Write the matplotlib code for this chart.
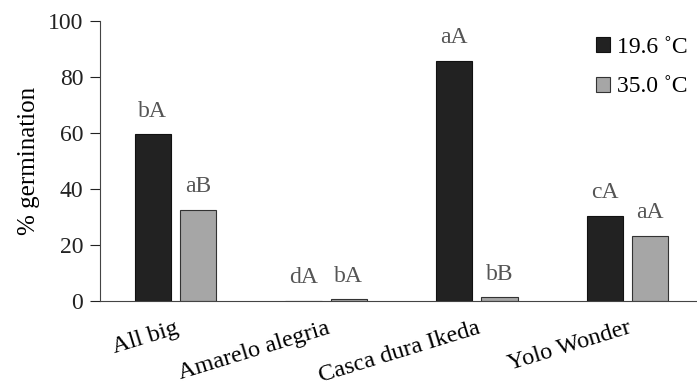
import matplotlib.pyplot as plt
import numpy as np

# ─── Données ────────────────────────────────────────────────────────────────
cultivars = ["All big", "Amarelo alegria", "Casca dura Ikeda", "Yolo Wonder"]
germ_196 = [59.6, 0.0, 85.7, 30.4]
germ_350 = [32.5, 0.6, 1.3, 23.2]
lettres_196 = ["bA", "dA", "aA", "cA"]
lettres_350 = ["aB", "bA", "bB", "aA"]
series = ["19.6 ˚C", "35.0 ˚C"]

plt.rcParams["font.family"] = ["Liberation Serif", "DejaVu Serif"]

fig = plt.figure(figsize=(6.97, 3.88), dpi=100)
ax = fig.add_axes([0.1435, 0.224, 0.8565, 0.722])

x = np.arange(len(cultivars))
w = 0.24
off = 0.15
b1 = ax.bar(x - off, germ_196, w, color="#222222", edgecolor="#111111", linewidth=0.8, label=series[0])
b2 = ax.bar(x + off, germ_350, w, color="#a6a6a6", edgecolor="#333333", linewidth=0.8, label=series[1])

for barres, lettres in [(b1, lettres_196), (b2, lettres_350)]:
    for barre, txt in zip(barres, lettres):
        ax.text(barre.get_x() + barre.get_width() / 2, barre.get_height() + 4.5, txt,
                ha="center", va="bottom", fontsize=17, color="#555555")

ax.set_xlim(-0.5, 3.46)
ax.set_ylim(0, 100)
ax.set_yticks([0, 20, 40, 60, 80, 100])
ax.set_xticks(x)
ax.set_xticklabels(cultivars, rotation=17, ha="right", rotation_mode="anchor", fontsize=17.5)
ax.tick_params(axis="x", length=0, pad=12)
ax.tick_params(axis="y", labelsize=17, direction="out", length=7, pad=5, colors="#222222")
ax.set_ylabel("% germination", fontsize=18, labelpad=6)
ax.spines[["top", "right"]].set_visible(False)
ax.spines[["left", "bottom"]].set_color("#444444")

ax.legend(loc="upper right", bbox_to_anchor=(1.02, 1.02), frameon=False, fontsize=17,
          handlelength=0.6, handleheight=0.6, handletextpad=0.3, labelspacing=0.8)

plt.savefig("out.png", dpi=100)
